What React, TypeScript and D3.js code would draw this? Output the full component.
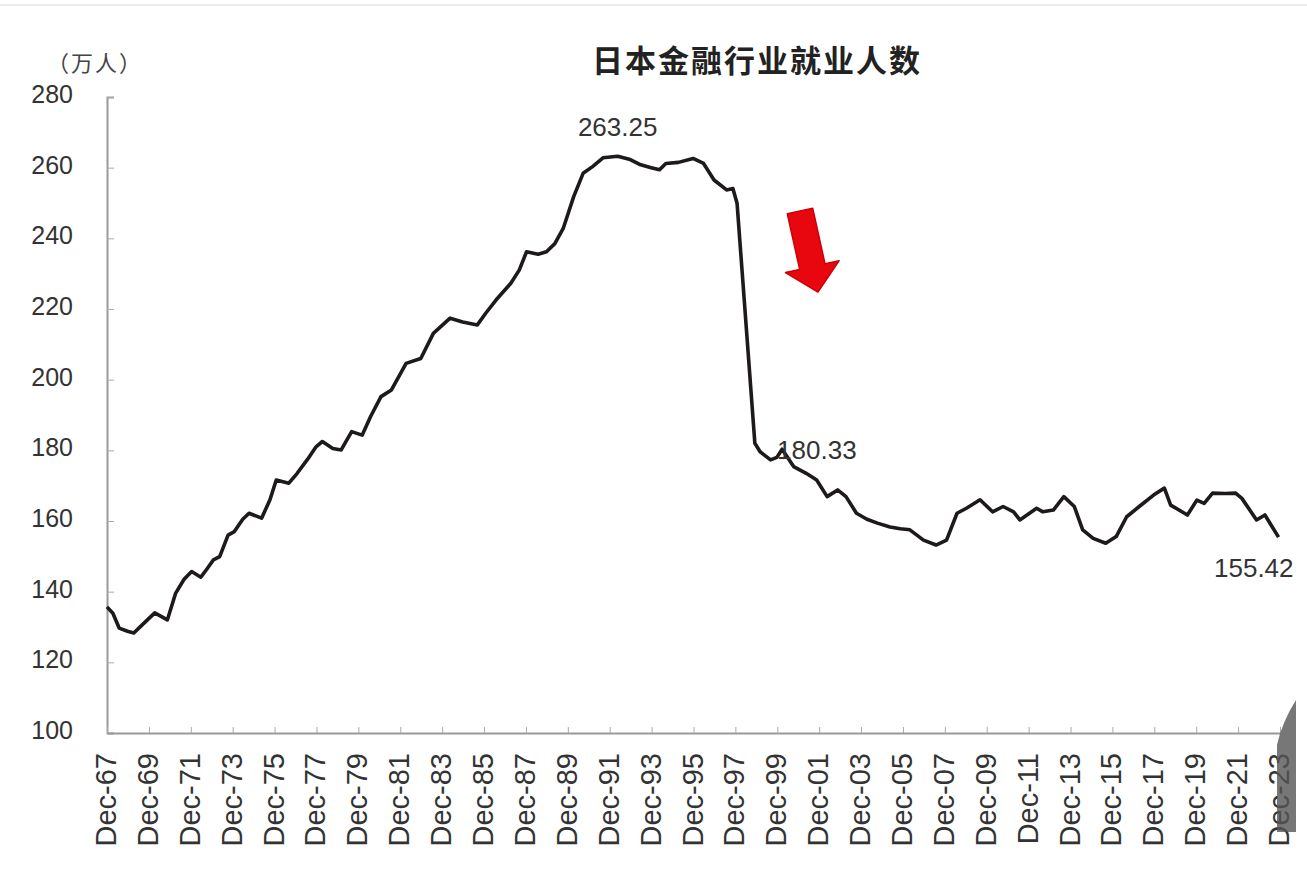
import React, { useEffect, useRef } from 'react';
import * as d3 from 'd3';

// Japan financial industry employment (10k persons)
const years = [
  1967.92, 1968.2, 1968.5, 1968.9, 1969.2, 1969.6, 1970.2, 1970.5, 1970.8, 1971.2,
  1971.6, 1971.96, 1972.4, 1972.7, 1973.0, 1973.3, 1973.7, 1974.0, 1974.4, 1974.7,
  1975.3, 1975.7, 1976.0, 1976.6, 1977.0, 1977.5, 1977.9, 1978.2, 1978.7, 1979.1,
  1979.6, 1980.1, 1980.5, 1981.0, 1981.5, 1982.2, 1982.9, 1983.5, 1984.3, 1984.9,
  1985.6, 1986.0, 1986.5, 1987.2, 1987.6, 1987.95, 1988.5, 1988.9, 1989.3, 1989.7,
  1990.2, 1990.65, 1991.1, 1991.6, 1992.3, 1992.9, 1993.4, 1993.9, 1994.3, 1994.6,
  1995.2, 1995.9, 1996.4, 1996.9, 1997.5, 1997.8, 1998.0, 1998.85, 1999.1, 1999.6,
  1999.9, 2000.15, 2000.7, 2001.3, 2001.8, 2002.3, 2002.8, 2003.2, 2003.7, 2004.2,
  2004.7, 2005.3, 2005.8, 2006.25, 2006.9, 2007.5, 2008.0, 2008.5, 2008.95, 2009.6,
  2010.2, 2010.7, 2011.2, 2011.5, 2012.3, 2012.6, 2013.1, 2013.6, 2014.1, 2014.5,
  2015.0, 2015.6, 2016.1, 2016.6, 2017.2, 2017.9, 2018.4, 2018.7, 2019.5, 2019.95,
  2020.3, 2020.7, 2021.3, 2021.8, 2022.1, 2022.8, 2023.2, 2023.85,
];

const employees = [
  135.7, 133.9, 129.7, 128.8, 128.3, 130.6, 134.0, 133.0, 132.0, 139.6,
  143.5, 145.7, 144.1, 146.5, 149.0, 149.9, 156.0, 157.0, 160.5, 162.2,
  160.8, 166.0, 171.6, 170.7, 173.5, 177.5, 181.0, 182.5, 180.5, 180.1,
  185.3, 184.3, 189.5, 195.2, 197.1, 204.6, 206.0, 213.1, 217.4, 216.3,
  215.5, 218.8, 222.6, 227.3, 231.0, 236.2, 235.5, 236.2, 238.5, 242.8,
  251.8, 258.4, 260.3, 262.8, 263.25, 262.3, 260.8, 260.0, 259.4, 261.2,
  261.5, 262.6, 261.2, 256.5, 253.7, 254.1, 249.9, 182.0, 179.6, 177.3,
  178.0, 180.33, 175.4, 173.5, 171.6, 166.9, 168.8, 166.9, 162.2, 160.5,
  159.4, 158.3, 157.8, 157.5, 154.6, 153.2, 154.6, 162.2, 163.6, 166.0,
  162.6, 164.1, 162.6, 160.3, 163.6, 162.6, 163.1, 166.9, 164.1, 157.5,
  155.1, 153.7, 155.6, 161.2, 164.1, 167.4, 169.3, 164.5, 161.7, 165.9,
  165.0, 167.9, 167.8, 167.9, 166.4, 160.3, 161.7, 155.42,
];

// tick labels every two Decembers
const tickYears = d3.range(1967, 2024, 2);
const yTicks = [100, 120, 140, 160, 180, 200, 220, 240, 260, 280];

// labelled points
const annotations = [
  { year: 1992.3, value: 263.25, label: '263.25' },
  { year: 2000.15, value: 180.33, label: '180.33' },
  { year: 2023.85, value: 155.42, label: '155.42' },
];

const W = 1307;
const H = 896;

const App: React.FC = () => {
  const svgRef = useRef<SVGSVGElement>(null);

  useEffect(() => {
    if (!svgRef.current) return;
    const svg = d3.select(svgRef.current);
    svg.selectAll('*').remove();

    const margin = { top: 97, right: 27, bottom: 163, left: 107 };
    const xScale = d3
      .scaleLinear()
      .domain([1967.92, 2023.92])
      .range([margin.left, W - margin.right]);
    const yScale = d3
      .scaleLinear()
      .domain([100, 280])
      .range([H - margin.bottom, margin.top]);

    svg.append('rect').attr('width', W).attr('height', H).attr('fill', '#fff');
    svg.append('line')
      .attr('x1', 0).attr('x2', W).attr('y1', 5).attr('y2', 5)
      .attr('stroke', '#e6e6e6').attr('stroke-width', 1.5);

    // Title and unit
    svg.append('text')
      .attr('x', 757)
      .attr('y', 72)
      .attr('text-anchor', 'middle')
      .style('font-family', '"Noto Sans CJK SC", sans-serif')
      .style('font-size', '31px')
      .style('font-weight', 'bold')
      .style('letter-spacing', '2px')
      .style('fill', '#222')
      .text('日本金融行业就业人数');

    svg.append('text')
      .attr('x', 95)
      .attr('y', 71)
      .attr('text-anchor', 'middle')
      .style('font-family', '"Noto Sans CJK SC", sans-serif')
      .style('font-size', '22px')
      .style('letter-spacing', '2px')
      .style('fill', '#444')
      .text('（万人）');

    // Y axis
    const yAxis = svg.append('g')
      .attr('transform', `translate(${margin.left},0)`)
      .call(d3.axisRight(yScale).tickValues(yTicks).tickSize(7).tickFormat(() => ''));
    yAxis.select('.domain').attr('stroke', '#999').attr('stroke-width', 2);
    yAxis.selectAll('.tick line').attr('stroke', '#aaa');

    svg.append('g')
      .selectAll('text')
      .data(yTicks)
      .enter()
      .append('text')
      .attr('x', 73)
      .attr('y', d => yScale(d) + 6)
      .attr('text-anchor', 'end')
      .style('font-family', '"Liberation Sans", Arial, sans-serif')
      .style('font-size', '25px')
      .style('fill', '#333')
      .text(d => d);

    // X axis
    const xAxis = svg.append('g')
      .attr('transform', `translate(0,${H - margin.bottom})`)
      .call(
        d3.axisTop(xScale)
          .tickValues(tickYears.map(y => y + 0.92))
          .tickSize(6)
          .tickSizeOuter(0)
          .tickFormat(() => '')
      );
    xAxis.select('.domain').attr('stroke', '#999').attr('stroke-width', 2);
    xAxis.selectAll('.tick line').attr('stroke', '#aaa');

    svg.append('g')
      .selectAll('text')
      .data(tickYears)
      .enter()
      .append('text')
      .attr('transform', d => `translate(${xScale(d + 0.92) + 9},${H - margin.bottom + 20}) rotate(-90)`)
      .attr('text-anchor', 'end')
      .style('font-family', '"Liberation Sans", Arial, sans-serif')
      .style('font-size', '29px')
      .style('fill', '#333')
      .text(d => `Dec-${String(d % 100).padStart(2, '0')}`);

    // Line
    const points: [number, number][] = years.map((y, i) => [y, employees[i]]);
    const line = d3.line<[number, number]>()
      .x(d => xScale(d[0]))
      .y(d => yScale(d[1]))
      .curve(d3.curveLinear);

    svg.append('path')
      .datum(points)
      .attr('d', line)
      .attr('fill', 'none')
      .attr('stroke', '#1e1a1c')
      .attr('stroke-width', 3.6)
      .attr('stroke-linejoin', 'round');

    // Value labels
    const labelStyle = (sel: d3.Selection<SVGTextElement, unknown, null, undefined>) =>
      sel
        .style('font-family', '"Liberation Sans", Arial, sans-serif')
        .style('font-size', '26px')
        .style('fill', '#333');

    const [peak, trough, last] = annotations;
    svg.append('text')
      .attr('x', xScale(peak.year))
      .attr('y', yScale(peak.value) - 20)
      .attr('text-anchor', 'middle')
      .call(labelStyle)
      .text(peak.label);
    svg.append('text')
      .attr('x', xScale(trough.year) - 5)
      .attr('y', yScale(trough.value) + 10)
      .attr('text-anchor', 'start')
      .call(labelStyle)
      .text(trough.label);
    svg.append('text')
      .attr('x', xScale(last.year) + 15)
      .attr('y', yScale(last.value) + 40)
      .attr('text-anchor', 'end')
      .call(labelStyle)
      .text(last.label);

    // Red arrow
    svg.append('path')
      .attr('d', 'M-13,0 L13,0 L13,57 L27.5,57 L0,83 L-27.5,57 L-13,57 Z')
      .attr('transform', 'translate(800,211) rotate(-12.5)')
      .attr('fill', '#e8070f')
      .attr('stroke', '#cc0008')
      .attr('stroke-width', 1.5)
      .attr('stroke-linejoin', 'round');

    // Grey overlay blob at bottom right
    svg.append('path')
      .attr('d', 'M1296,700 Q1282,722 1277,745 L1277,832 L1296,832 Z')
      .attr('fill', '#555')
      .attr('opacity', 0.8);
  }, []);

  return (
    <svg
      ref={svgRef}
      width={W}
      height={H}
      style={{ position: 'absolute', left: 0, top: 0, display: 'block' }}
    />
  );
};

export default App;
